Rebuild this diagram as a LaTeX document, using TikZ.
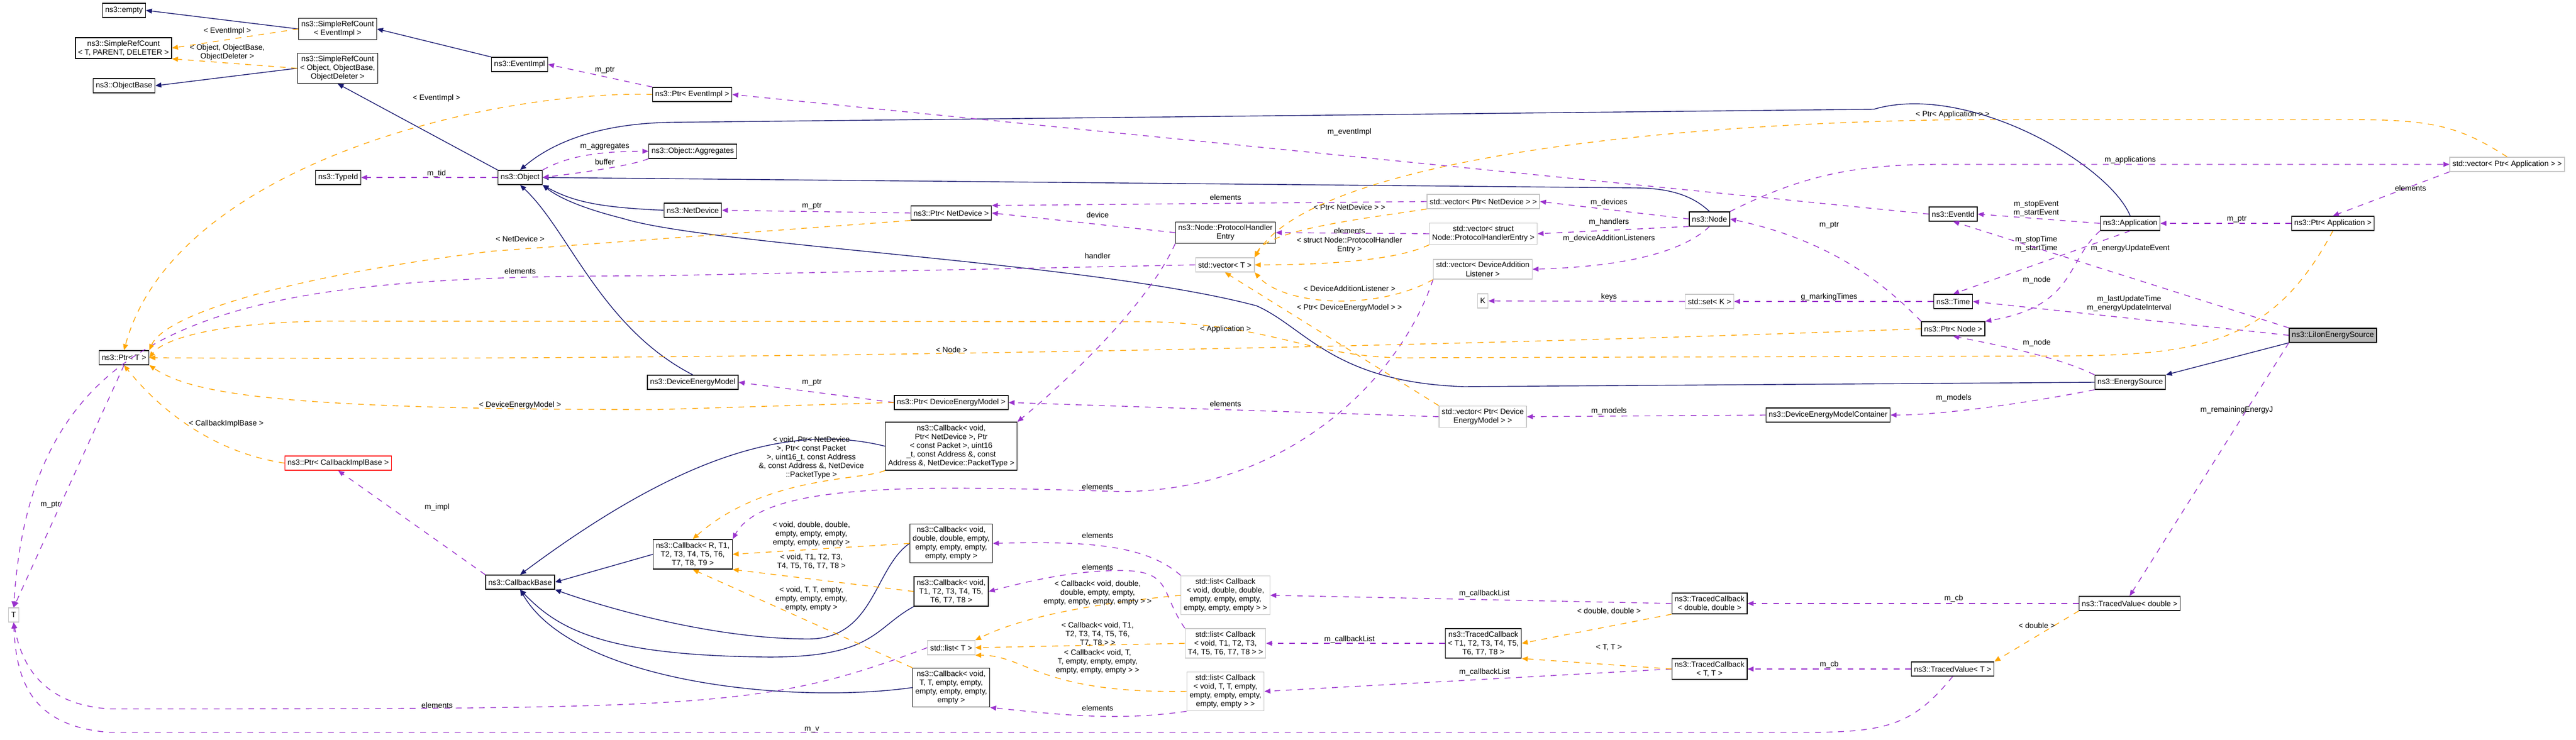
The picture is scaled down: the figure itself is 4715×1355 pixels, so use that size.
\documentclass[tikz,border=0pt]{standalone}
\usepackage{fontspec}
\setmainfont{Liberation Sans}
\usepackage{xcolor}
\usetikzlibrary{positioning,arrows.meta}
\definecolor{inhblue}{RGB}{25,25,112}
\definecolor{usepurple}{RGB}{154,50,205}
\definecolor{tplorange}{RGB}{255,165,0}
\tikzset{
  cls/.style={draw=black, fill=white, font=\fontsize{4}{4.6}\selectfont, inner sep=1.4pt, align=center, minimum height=0.26cm, line width=0.4pt},
  ext/.style={cls, draw=gray!45},
  cur/.style={cls, fill=gray!55},
  lbl/.style={font=\fontsize{4}{4.6}\selectfont, align=center, inner sep=0pt},
  inh/.style={draw=inhblue, line width=0.4pt, -{Triangle[length=1.1mm,width=0.9mm]}},
  usage/.style={draw=usepurple, dashed, line width=0.4pt, -{Triangle[length=1.1mm,width=0.9mm]}},
  tpl/.style={draw=tplorange, dashed, line width=0.4pt, -{Triangle[length=1.1mm,width=0.9mm]}},
}
\begin{document}
\begin{tikzpicture}[x=0.01cm, y=-0.01cm]
\useasboundingbox (0,0) rectangle (4715,1355);

% classes
\node[cls] (empty) at (227,19) {ns3::empty};
\node[cls] (srcEv) at (618,53) {ns3::SimpleRefCount\\< EventImpl >};
\node[cls] (srcT) at (226,88) {ns3::SimpleRefCount\\< T, PARENT, DELETER >};
\node[cls] (srcObj) at (618,125) {ns3::SimpleRefCount\\< Object, ObjectBase,\\ObjectDeleter >};
\node[cls] (objBase) at (227,157) {ns3::ObjectBase};
\node[cls] (typeId) at (619,325) {ns3::TypeId};
\node[cls] (ptrT) at (227,655) {ns3::Ptr< T >};
\node[cls, draw=red] (ptrCib) at (619,848) {ns3::Ptr< CallbackImplBase >};
\node[ext] (T) at (25,1126) {T};
\node[cls] (eventImpl) at (951,118) {ns3::EventImpl};
\node[cls] (ptrEv) at (1267,173) {ns3::Ptr< EventImpl >};
\node[cls] (object) at (952,325) {ns3::Object};
\node[cls] (aggr) at (1268,277) {ns3::Object::Aggregates};
\node[cls] (netDev) at (1268,385) {ns3::NetDevice};
\node[cls] (ptrNd) at (1741,390) {ns3::Ptr< NetDevice >};
\node[cls] (dem) at (1268,700) {ns3::DeviceEnergyModel};
\node[cls] (ptrDem) at (1741,737) {ns3::Ptr< DeviceEnergyModel >};
\node[cls] (cbNd) at (1741,817) {ns3::Callback< void,\\ Ptr< NetDevice >, Ptr\\< const Packet >, uint16\\\_t, const Address \&, const\\ Address \&, NetDevice::PacketType >};
\node[cls] (cbR) at (1268,1015) {ns3::Callback< R, T1,\\T2, T3, T4, T5, T6,\\T7, T8, T9 >};
\node[cls] (cbBase) at (952,1066) {ns3::CallbackBase};
\node[cls] (cbDd) at (1741,995) {ns3::Callback< void,\\double, double, empty,\\empty, empty, empty,\\empty, empty >};
\node[cls] (cbT1) at (1741,1083) {ns3::Callback< void,\\T1, T2, T3, T4, T5,\\T6, T7, T8 >};
\node[ext] (listT) at (1741,1186) {std::list< T >};
\node[cls] (cbTT) at (1741,1259) {ns3::Callback< void,\\T, T, empty, empty,\\empty, empty, empty,\\empty >};
\node[cls] (phe) at (2243,426) {ns3::Node::ProtocolHandler\\Entry};
\node[ext] (vecT) at (2242,485) {std::vector< T >};
\node[ext] (vecNd) at (2715,369) {std::vector< Ptr< NetDevice > >};
\node[ext] (vecPhe) at (2715,428) {std::vector< struct\\Node::ProtocolHandlerEntry >};
\node[ext] (vecDal) at (2714,493) {std::vector< DeviceAddition\\Listener >};
\node[ext] (K) at (2714,551) {K};
\node[ext] (vecDem) at (2714,763) {std::vector< Ptr< Device\\EnergyModel > >};
\node[ext] (listDd) at (2243,1090) {std::list< Callback\\< void, double, double,\\empty, empty, empty,\\empty, empty, empty > >};
\node[ext] (listT1) at (2243,1178) {std::list< Callback\\< void, T1, T2, T3,\\T4, T5, T6, T7, T8 > >};
\node[ext] (listTT) at (2243,1266) {std::list< Callback\\< void, T, T, empty,\\empty, empty, empty,\\empty, empty > >};
\node[cls] (tcbT1) at (2715,1178) {ns3::TracedCallback\\< T1, T2, T3, T4, T5,\\T6, T7, T8 >};
\node[cls] (node) at (3129,401) {ns3::Node};
\node[cls] (eventId) at (3575,392) {ns3::EventId};
\node[cls] (app) at (3899,409) {ns3::Application};
\node[cls] (ptrApp) at (4270,409) {ns3::Ptr< Application >};
\node[ext] (vecApp) at (4589,301) {std::vector< Ptr< Application > >};
\node[ext] (setK) at (3129,552) {std::set< K >};
\node[cls] (time) at (3575,552) {ns3::Time};
\node[cls] (ptrNode) at (3575,602) {ns3::Ptr< Node >};
\node[cur] (liion) at (4270,614) {ns3::LiIonEnergySource};
\node[cls] (energySrc) at (3899,700) {ns3::EnergySource};
\node[cls] (demCont) at (3346,760) {ns3::DeviceEnergyModelContainer};
\node[cls] (tcbDd) at (3129,1105) {ns3::TracedCallback\\< double, double >};
\node[cls] (tvD) at (3898,1105) {ns3::TracedValue< double >};
\node[cls] (tcbTT) at (3129,1225) {ns3::TracedCallback\\< T, T >};
\node[cls] (tvT) at (3574,1225) {ns3::TracedValue< T >};

% inheritance
\draw[inh] (srcEv.west) -- (empty.east);
\draw[inh] (eventImpl.north west) -- (srcEv.east);
\draw[inh] (srcObj.west) -- (objBase.east);
\draw[inh] (object.north west) -- (srcObj.south);
\draw[inh] (app.north) .. controls (3860,300) and (3600,150) .. (3430,200) -- (1230,224) .. controls (1080,226) and (1000,270) .. (object.north);
\draw[inh] (node.north) .. controls (3100,360) and (3060,344) .. (2990,344) -- (object.east);
\draw[inh] (netDev.west) .. controls (1100,380) and (1050,370) .. (object.south east);
\draw[inh] (dem.north) .. controls (1100,600) and (1040,420) .. (object.south);
\draw[inh] (energySrc.west) -- (2680,708) .. controls (2440,700) and (2390,600) .. (2300,560) .. controls (2000,480) and (1300,450) .. (1140,400) .. controls (1060,380) and (1020,360) .. (object.south east);
\draw[inh] (liion.south west) -- (energySrc.north east);
\draw[inh] (cbR.west) -- (cbBase.east);
\draw[inh] (cbDd.west) .. controls (1600,1040) and (1600,1170) .. (1480,1170) .. controls (1300,1170) and (1100,1110) .. (cbBase.south east);
\draw[inh] (cbT1.south west) .. controls (1600,1150) and (1600,1205) .. (1400,1203) .. controls (1100,1200) and (1020,1150) .. (cbBase.south);
\draw[inh] (cbTT.west) .. controls (1450,1290) and (1050,1250) .. (cbBase.south);
\draw[inh] (cbNd.west) .. controls (1450,775) and (1250,830) .. (cbBase.north);

% usage
\draw[usage] (ptrT.south) -- (T.north) node[lbl, at={(92,924)}] {m\_ptr};
\draw[usage] (vecT.west) -- (1200,505) .. controls (450,505) and (60,560) .. (T.north) node[lbl, at={(952,496)}] {elements};
\draw[usage] (listT.west) .. controls (1400,1298) and (1300,1298) .. (200,1298) .. controls (80,1290) and (40,1220) .. (T.south) node[lbl, at={(800,1291)}] {elements};
\draw[usage] (tvT.south) .. controls (3500,1330) and (3450,1341) .. (3300,1341) -- (200,1341) .. controls (60,1330) and (30,1250) .. (T.south) node[lbl, at={(1486,1336)}] {m\_v};
\draw[usage] (cbBase.north west) -- (ptrCib.south) node[lbl, at={(800,929)}] {m\_impl};
\draw[usage] (object.west) -- (typeId.east) node[lbl, at={(799,318)}] {m\_tid};
\draw[usage] (object.north east) .. controls (1040,285) and (1100,277) .. (aggr.west) node[lbl, at={(1107,268)}] {m\_aggregates};
\draw[usage] (aggr.south west) .. controls (1150,305) and (1050,318) .. (object.east) node[lbl, at={(1107,296)}] {buffer};
\draw[usage] (ptrEv.north west) -- (eventImpl.east) node[lbl, at={(1107,128)}] {m\_ptr};
\draw[usage] (eventId.west) -- (ptrEv.east) node[lbl, at={(2470,242)}] {m\_eventImpl};
\draw[usage] (ptrNd.west) -- (netDev.east) node[lbl, at={(1486,377)}] {m\_ptr};
\draw[usage] (vecNd.west) -- (ptrNd.north east) node[lbl, at={(2243,361)}] {elements};
\draw[usage] (phe.west) -- (ptrNd.east) node[lbl, at={(2009,393)}] {device};
\draw[usage] (vecPhe.west) -- (phe.east) node[lbl, at={(2470,422)}] {elements};
\draw[usage] (phe.south west) .. controls (2100,560) and (1950,700) .. (cbNd.north east) node[lbl, at={(2009,468)}] {handler};
\draw[usage] (node.west) -- (vecNd.east) node[lbl, at={(2945,371)}] {m\_devices};
\draw[usage] (node.south west) -- (vecPhe.east) node[lbl, at={(2945,407)}] {m\_handlers};
\draw[usage] (node.south) .. controls (3060,480) and (2900,490) .. (vecDal.east) node[lbl, at={(2945,437)}] {m\_deviceAdditionListeners};
\draw[usage] (vecDal.south west) .. controls (2560,700) and (2350,900) .. (2050,900) .. controls (1700,890) and (1400,880) .. (cbR.north east) node[lbl, at={(2009,891)}] {elements};
\draw[usage] (setK.west) -- (K.east) node[lbl, at={(2945,544)}] {keys};
\draw[usage] (ptrDem.west) -- (dem.east) node[lbl, at={(1486,700)}] {m\_ptr};
\draw[usage] (vecDem.west) -- (ptrDem.east) node[lbl, at={(2243,739)}] {elements};
\draw[usage] (demCont.west) -- (vecDem.east) node[lbl, at={(2945,753)}] {m\_models};
\draw[usage] (energySrc.south west) .. controls (3700,740) and (3550,760) .. (demCont.east) node[lbl, at={(3576,729)}] {m\_models};
\draw[usage] (energySrc.north west) .. controls (3780,660) and (3700,640) .. (ptrNode.south) node[lbl, at={(3728,628)}] {m\_node};
\draw[usage] (app.south west) .. controls (3780,480) and (3800,560) .. (ptrNode.north east) node[lbl, at={(3728,513)}] {m\_node};
\draw[usage] (ptrNode.north west) .. controls (3450,520) and (3350,440) .. (node.east) node[lbl, at={(3348,412)}] {m\_ptr};
\draw[usage] (app.west) -- (eventId.east) node[lbl, at={(3727,382)}] {m\_stopEvent\\m\_startEvent};
\draw[usage] (app.south) -- (time.north) node[lbl, at={(3727,447)}] {m\_stopTime\\m\_startTime};
\draw[usage] (liion.north west) -- (eventId.south) node[lbl, at={(3899,455)}] {m\_energyUpdateEvent};
\draw[usage] (liion.west) -- (time.east) node[lbl, at={(3897,556)}] {m\_lastUpdateTime\\m\_energyUpdateInterval};
\draw[usage] (time.west) -- (setK.east) node[lbl, at={(3348,544)}] {g\_markingTimes};
\draw[usage] (node.north east) .. controls (3300,320) and (3400,301) .. (3550,301) -- (vecApp.west) node[lbl, at={(3899,293)}] {m\_applications};
\draw[usage] (vecApp.south west) -- (ptrApp.north) node[lbl, at={(4412,344)}] {elements};
\draw[usage] (ptrApp.west) -- (app.east) node[lbl, at={(4094,401)}] {m\_ptr};
\draw[usage] (liion.south west) -- (tvD.north) node[lbl, at={(4094,751)}] {m\_remainingEnergyJ};
\draw[usage] (tvD.west) -- (tcbDd.east) node[lbl, at={(3576,1096)}] {m\_cb};
\draw[usage] (tvT.west) -- (tcbTT.east) node[lbl, at={(3348,1217)}] {m\_cb};
\draw[usage] (tcbDd.west) -- (listDd.east) node[lbl, at={(2717,1087)}] {m\_callbackList};
\draw[usage] (tcbT1.west) -- (listT1.east) node[lbl, at={(2470,1171)}] {m\_callbackList};
\draw[usage] (tcbTT.west) -- (listTT.east) node[lbl, at={(2717,1231)}] {m\_callbackList};
\draw[usage] (listDd.north west) .. controls (2100,1000) and (2000,990) .. (cbDd.east) node[lbl, at={(2009,980)}] {elements};
\draw[usage] (listT1.north west) .. controls (2120,1080) and (2150,1040) .. (2030,1045) .. controls (1950,1048) and (1880,1065) .. (cbT1.east) node[lbl, at={(2009,1038)}] {elements};
\draw[usage] (listTT.south west) .. controls (2050,1320) and (1950,1310) .. (cbTT.south east) node[lbl, at={(2009,1296)}] {elements};

% templates
\draw[tpl] (srcEv.west) -- (srcT.east) node[lbl, at={(416,57)}] {< EventImpl >};
\draw[tpl] (srcObj.west) -- (srcT.south east) node[lbl, at={(416,96)}] {< Object, ObjectBase,\\ObjectDeleter >};
\draw[tpl] (ptrEv.west) .. controls (900,165) and (320,300) .. (ptrT.north) node[lbl, at={(799,180)}] {< EventImpl >};
\draw[tpl] (ptrNd.south west) -- (900,460) .. controls (500,510) and (300,580) .. (ptrT.north east) node[lbl, at={(952,437)}] {< NetDevice >};
\draw[tpl] (ptrNode.west) .. controls (2500,640) and (1200,661) .. (ptrT.east) node[lbl, at={(1742,640)}] {< Node >};
\draw[tpl] (ptrApp.south) .. controls (4150,650) and (4000,652) .. (3700,652) -- (2600,655) .. controls (2400,660) and (2350,595) .. (2100,589) -- (600,588) .. controls (400,590) and (300,620) .. (ptrT.east) node[lbl, at={(2243,603)}] {< Application >};
\draw[tpl] (ptrDem.west) -- (1200,750) .. controls (500,750) and (350,720) .. (ptrT.south east) node[lbl, at={(952,742)}] {< DeviceEnergyModel >};
\draw[tpl] (ptrCib.west) .. controls (400,830) and (300,760) .. (ptrT.south) node[lbl, at={(414,776)}] {< CallbackImplBase >};
\draw[tpl] (cbDd.west) -- (cbR.east) node[lbl, at={(1485,978)}] {< void, double, double,\\empty, empty, empty,\\empty, empty, empty >};
\draw[tpl] (cbT1.west) -- (cbR.south east) node[lbl, at={(1485,1028)}] {< void, T1, T2, T3,\\T4, T5, T6, T7, T8 >};
\draw[tpl] (cbTT.north west) -- (cbR.south) node[lbl, at={(1485,1097)}] {< void, T, T, empty,\\empty, empty, empty,\\empty, empty >};
\draw[tpl] (cbNd.south west) .. controls (1580,880) and (1400,870) .. (cbR.north) node[lbl, at={(1485,838)}] {< void, Ptr< NetDevice\\>, Ptr< const Packet\\>, uint16\_t, const Address\\\&, const Address \&, NetDevice\\::PacketType >};
\draw[tpl] (vecNd.south west) .. controls (2500,400) and (2320,420) .. (vecT.north east) node[lbl, at={(2470,379)}] {< Ptr< NetDevice > >};
\draw[tpl] (vecPhe.south west) .. controls (2550,480) and (2400,485) .. (vecT.east) node[lbl, at={(2470,449)}] {< struct Node::ProtocolHandler\\Entry >};
\draw[tpl] (vecDal.south west) .. controls (2520,570) and (2350,560) .. (vecT.south east) node[lbl, at={(2470,528)}] {< DeviceAdditionListener >};
\draw[tpl] (vecDem.north west) -- (vecT.south) node[lbl, at={(2470,564)}] {< Ptr< DeviceEnergyModel > >};
\draw[tpl] (vecApp.north) .. controls (4500,230) and (4450,219) .. (4300,219) -- (3600,219) .. controls (3000,225) and (2400,300) .. (vecT.north east) node[lbl, at={(3574,210)}] {< Ptr< Application > >};
\draw[tpl] (listDd.west) .. controls (1950,1110) and (1850,1140) .. (listT.north east) node[lbl, at={(2009,1086)}] {< Callback< void, double,\\double, empty, empty,\\empty, empty, empty, empty > >};
\draw[tpl] (listT1.west) -- (listT.east) node[lbl, at={(2009,1161)}] {< Callback< void, T1,\\T2, T3, T4, T5, T6,\\T7, T8 > >};
\draw[tpl] (listTT.west) .. controls (1900,1270) and (1880,1200) .. (listT.south east) node[lbl, at={(2009,1212)}] {< Callback< void, T,\\T, empty, empty, empty,\\empty, empty, empty > >};
\draw[tpl] (tcbDd.south west) -- (tcbT1.east) node[lbl, at={(2945,1119)}] {< double, double >};
\draw[tpl] (tcbTT.west) -- (tcbT1.south east) node[lbl, at={(2945,1186)}] {< T, T >};
\draw[tpl] (tvD.south west) -- (tvT.north east) node[lbl, at={(3728,1145)}] {< double >};
\end{tikzpicture}
\end{document}
